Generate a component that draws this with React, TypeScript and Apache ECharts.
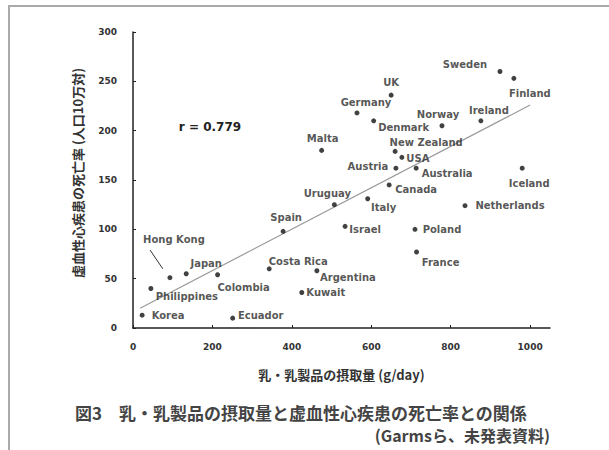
import React, { useEffect, useRef } from "react";
import * as echarts from "echarts";

const countries = ["Sweden", "Finland", "UK", "Germany", "Denmark", "Norway", "Ireland", "New Zealand", "USA", "Austria", "Australia", "Canada", "Italy", "Uruguay", "Iceland", "Netherlands", "Israel", "Poland", "France", "Argentina", "Kuwait", "Costa Rica", "Spain", "Malta", "Hong Kong", "Japan", "Colombia", "Philippines", "Korea", "Ecuador"];
const intake = [924, 959, 650, 564, 606, 778, 876, 660, 677, 662, 713, 645, 591, 507, 980, 836, 534, 710, 714, 463, 425, 343, 378, 475, 93, 134, 213, 45, 23, 251];
const ihdMortality = [260, 253, 236, 218, 210, 205, 210, 179, 173, 162, 162, 145, 131, 125, 162, 124, 103, 100, 77, 58, 36, 60, 98, 180, 51, 55, 54, 40, 13, 10];

// label offsets (px) relative to each dot, style only
const labelOffsets: number[][] = [
  [-35, -7], [16, 15], [0, -13], [9, -10], [30, 7], [-4, -11], [8, -10], [31, -9], [16, 1], [-28, -2],
  [31, 5], [27, 5], [16, 9], [-7, -11], [7, 15], [45, 0], [20, 3], [27, 0], [24, 10], [31, 7],
  [24, 0], [29, -7], [3, -14], [1, -12], [4, -38], [20, -10], [26, 13], [36, 8], [26, 0], [28, -3],
];

const regressionLine = [[18, 20], [1000, 226]];
const hongKongLeader = [[43, 79], [75, 60]];
const correlationText = "r = 0.779";

const xTicks = [0, 200, 400, 600, 800, 1000];
const yTitle = "虚血性心疾患の死亡率 (人口10万対)";
const xTitle = "乳・乳製品の摂取量 (g/day)";
const caption1 = "図3　乳・乳製品の摂取量と虚血性心疾患の死亡率との関係";
const caption2 = "(Garmsら、未発表資料)";

const LATIN = "'DejaVu Sans', sans-serif";
const CJK = "'Noto Sans CJK JP', sans-serif";

export default function App() {
  const ref = useRef<HTMLDivElement>(null);
  useEffect(() => {
    if (!ref.current) return;
    const chart = echarts.init(ref.current, null, { renderer: "svg" });
    const points = countries.map((c, i) => ({
      name: c,
      value: [intake[i], ihdMortality[i]],
      label: {
        show: true,
        position: "inside",
        offset: labelOffsets[i],
        formatter: c,
      },
    }));
    const axisCommon = {
      axisLine: { show: true, lineStyle: { color: "#222", width: 1.5 } },
      splitLine: { show: false },
    };
    chart.setOption({
      animation: false,
      backgroundColor: "#fff",
      grid: { left: 133, top: 32, width: 417, height: 296 },
      xAxis: {
        type: "value",
        min: 0,
        max: 1050,
        ...axisCommon,
        axisTick: { show: true, inside: true, length: 3, lineStyle: { color: "#222" }, customValues: xTicks },
        axisLabel: { customValues: xTicks, formatter: (v: number) => String(v), margin: 14, fontSize: 9, color: "#333", fontFamily: LATIN, fontWeight: "bold" },
        name: xTitle,
        nameLocation: "middle",
        nameGap: 40,
        nameTextStyle: { fontSize: 13, color: "#333", fontFamily: CJK, fontWeight: "bold" },
      },
      yAxis: {
        type: "value",
        min: 0,
        max: 300,
        interval: 50,
        ...axisCommon,
        axisTick: { show: true, inside: true, length: 3, lineStyle: { color: "#222" } },
        axisLabel: { margin: 16, fontSize: 9, color: "#333", fontFamily: LATIN, fontWeight: "bold" },
        name: yTitle,
        nameLocation: "middle",
        nameGap: 49,
        nameRotate: 90,
        nameTextStyle: { fontSize: 13, color: "#333", fontFamily: CJK, fontWeight: "bold", padding: [0, 0, 0, 14] },
      },
      series: [
        {
          type: "line",
          data: regressionLine,
          symbol: "none",
          lineStyle: { color: "#999", width: 1.2 },
          silent: true,
          z: 1,
        },
        {
          type: "line",
          data: hongKongLeader,
          symbol: ["none", "circle"],
          symbolSize: [0, 3],
          showSymbol: true,
          lineStyle: { color: "#333", width: 1 },
          itemStyle: { color: "#333" },
          silent: true,
          z: 2,
        },
        {
          type: "scatter",
          data: points,
          symbol: "circle",
          symbolSize: 5,
          itemStyle: { color: "#111" },
          label: { fontSize: 10, fontFamily: LATIN, fontWeight: "bold", color: "#2a2a2a" },
          z: 3,
        },
      ],
      graphic: [
        {
          type: "rect",
          shape: { x: 9, y: 6, width: 640, height: 480 },
          style: { fill: "none", stroke: "#aaa", lineWidth: 2 },
          silent: true,
        },
        {
          type: "text",
          x: 210,
          y: 127,
          style: { text: correlationText, fontSize: 12, fontWeight: "bold", fontFamily: LATIN, fill: "#222", align: "center", verticalAlign: "middle" },
        },
        {
          type: "text",
          x: 75,
          y: 412,
          style: { text: caption1, fontSize: 17, fontWeight: "bold", fontFamily: CJK, fill: "#444", align: "left", verticalAlign: "middle" },
        },
        {
          type: "text",
          x: 550,
          y: 435,
          style: { text: caption2, fontSize: 16, fontWeight: "bold", fontFamily: CJK, fill: "#444", align: "right", verticalAlign: "middle" },
        },
      ],
    });
    return () => chart.dispose();
  }, []);
  return <div ref={ref} style={{ position: "absolute", left: 0, top: 0, width: 609, height: 450 }} />;
}
